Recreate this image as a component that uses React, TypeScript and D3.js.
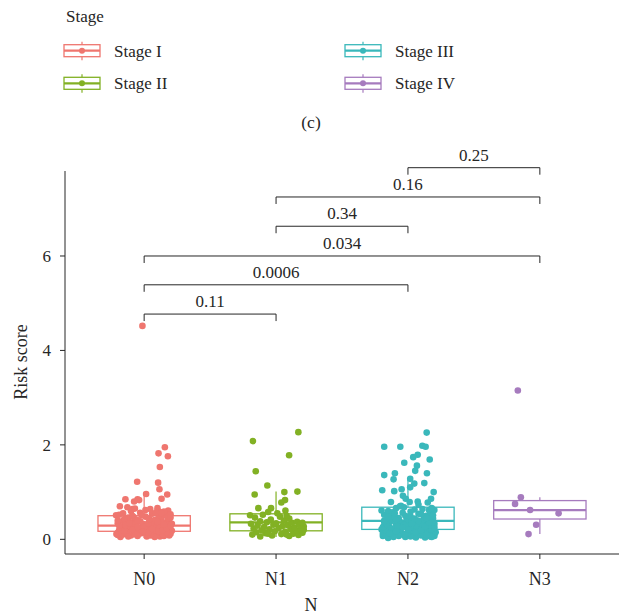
import React from "react";
import * as d3 from "d3";

const categories = ["N0", "N1", "N2", "N3"];
const stageLabels = ["Stage I", "Stage II", "Stage III", "Stage IV"];
const colors = ["#EF766F", "#82B124", "#3AB8BB", "#A67BBE"];
const yTicks = [0, 2, 4, 6];

// box statistics
const q1 = [0.17, 0.18, 0.21, 0.43];
const med = [0.29, 0.36, 0.39, 0.62];
const q3 = [0.5, 0.54, 0.68, 0.82];
const wLo = [0.03, 0.05, 0.02, 0.11];
const wHi = [0.98, 1.01, 1.26, 0.89];

// [value, jitter (fraction of category step)]
const ptsN0: [number, number][] = [
  [4.52, -0.013], [1.95, 0.157], [1.82, 0.109], [1.76, 0.18], [1.53, 0.119], [1.22, -0.053], [1.2, 0.106],
  [1.06, 0.116], [0.96, 0.015], [0.95, 0.175], [0.86, 0.132], [0.85, -0.142], [0.85, -0.05], [0.7, -0.184],
  [0.68, -0.127], [0.8, -0.076], [0.83, -0.038], [0.64, -0.089], [0.64, 0.046], [0.66, 0.101], [0.61, 0.182], [0.55, 0.14], [0.51, -0.213],
  [0.05, -0.18], [0.07, -0.05], [0.06, 0.12], [0.08, 0.19], [0.09, -0.12], [0.1, 0.03], [0.11, -0.21], [0.12, 0.08], [0.13, -0.02], [0.14, 0.16],
  [0.15, -0.15], [0.16, 0.05], [0.17, -0.08], [0.18, 0.21], [0.19, -0.19], [0.2, 0.0], [0.21, 0.11], [0.22, -0.11], [0.23, 0.18], [0.24, -0.04],
  [0.25, 0.07], [0.26, -0.17], [0.27, 0.14], [0.28, -0.07], [0.29, 0.02], [0.3, 0.2], [0.31, -0.13], [0.32, 0.09], [0.33, -0.01], [0.34, -0.2],
  [0.35, 0.15], [0.36, -0.09], [0.37, 0.04], [0.38, 0.19], [0.39, -0.16], [0.4, 0.1], [0.42, -0.06], [0.44, 0.13], [0.46, -0.12], [0.48, 0.01],
  [0.5, 0.17], [0.52, -0.19], [0.54, 0.06], [0.56, -0.03], [0.58, 0.12], [0.6, -0.1],
  [0.06, 0.02], [0.07, 0.15], [0.08, -0.1], [0.09, 0.09], [0.1, -0.16], [0.11, 0.18], [0.12, -0.04], [0.13, 0.13], [0.14, -0.2], [0.15, 0.1],
  [0.16, -0.13], [0.17, 0.2], [0.18, -0.06], [0.19, 0.07], [0.2, -0.18], [0.21, 0.16], [0.22, -0.02], [0.23, 0.04], [0.24, -0.14], [0.25, 0.19],
  [0.26, 0.0], [0.27, -0.1], [0.28, 0.12], [0.29, -0.19], [0.3, 0.06], [0.31, 0.17], [0.32, -0.07], [0.33, 0.21], [0.34, 0.03], [0.35, -0.12],
  [0.36, 0.14], [0.38, -0.03], [0.4, -0.2], [0.41, 0.08], [0.43, -0.15], [0.45, 0.18], [0.47, -0.08], [0.49, 0.11], [0.51, -0.02], [0.53, 0.2],
  [0.55, -0.16], [0.57, 0.09], [0.59, 0.15],
  [0.05, 0.08], [0.06, -0.12], [0.08, 0.05], [0.09, -0.2], [0.1, 0.14], [0.11, -0.07], [0.12, 0.2], [0.13, -0.17], [0.14, 0.03], [0.15, 0.17],
  [0.16, -0.01], [0.17, 0.11], [0.18, -0.15], [0.19, 0.14], [0.2, -0.09], [0.22, 0.06], [0.24, 0.17], [0.26, -0.05], [0.28, 0.2], [0.3, -0.14],
  [0.32, 0.15], [0.34, -0.11], [0.37, 0.1], [0.4, -0.05], [0.43, 0.04], [0.46, 0.2], [0.5, -0.09], [0.55, 0.13], [0.62, 0.01], [0.65, -0.07],
];

const ptsN1: [number, number][] = [
  [2.27, 0.169], [2.08, -0.175], [1.78, 0.099], [1.44, -0.154], [1.14, -0.066], [1.01, 0.162], [0.95, -0.162],
  [1.0, 0.063], [0.83, 0.068], [0.78, 0.04], [0.66, -0.134], [0.66, -0.038], [0.61, 0.071], [0.51, -0.197],
  [0.06, -0.12], [0.07, 0.1], [0.08, -0.03], [0.09, 0.17], [0.1, -0.18], [0.11, 0.04], [0.12, 0.13], [0.13, -0.08], [0.14, 0.2], [0.15, -0.15],
  [0.16, 0.07], [0.17, -0.01], [0.18, 0.16], [0.19, -0.11], [0.2, 0.19], [0.21, -0.05], [0.22, 0.11], [0.23, -0.17], [0.24, 0.02], [0.25, 0.14],
  [0.26, -0.09], [0.27, 0.21], [0.28, 0.05], [0.29, -0.14], [0.3, 0.09], [0.31, -0.02], [0.32, 0.18], [0.33, -0.19], [0.34, 0.0], [0.35, 0.12],
  [0.36, -0.07], [0.37, 0.16], [0.38, -0.12], [0.4, 0.06], [0.42, -0.04], [0.44, 0.1], [0.46, -0.16], [0.48, 0.03], [0.5, 0.08], [0.52, -0.1],
  [0.55, 0.01], [0.58, -0.06], [0.2, 0.21], [0.17, 0.2], [0.12, -0.06], [0.1, 0.08], [0.3, 0.18], [0.35, 0.2],
];

const ptsN2: [number, number][] = [
  [2.26, 0.142], [1.96, -0.18], [1.96, -0.058], [1.98, 0.109], [1.96, 0.134], [1.79, 0.074], [1.74, 0.04], [1.69, 0.165],
  [1.62, -0.028], [1.56, 0.068], [1.45, 0.055], [1.4, -0.099], [1.4, 0.144], [1.36, -0.18], [1.27, -0.109], [1.28, 0.017],
  [1.19, 0.124], [1.18, 0.048], [1.1, 0.017], [1.04, -0.195], [1.02, -0.104], [1.06, -0.048], [1.0, 0.195], [0.86, 0.175],
  [0.92, -0.038], [0.86, -0.017], [0.79, -0.129], [0.78, 0.15], [0.79, 0.013], [0.8, 0.074], [0.71, -0.053], [0.62, 0.2],
  [0.03, -0.15], [0.04, 0.06], [0.05, -0.02], [0.06, 0.17], [0.07, -0.19], [0.08, 0.1], [0.09, -0.08], [0.1, 0.2], [0.11, -0.12], [0.12, 0.03],
  [0.13, 0.14], [0.14, -0.05], [0.15, -0.17], [0.16, 0.08], [0.17, 0.19], [0.18, -0.1], [0.19, 0.01], [0.2, 0.13], [0.21, -0.2], [0.22, 0.05],
  [0.23, -0.07], [0.24, 0.16], [0.25, -0.14], [0.26, 0.09], [0.27, -0.03], [0.28, 0.2], [0.29, -0.18], [0.3, 0.04], [0.31, 0.12], [0.32, -0.09],
  [0.33, 0.18], [0.34, -0.16], [0.35, 0.0], [0.36, 0.11], [0.37, -0.06], [0.38, 0.15], [0.39, -0.13], [0.4, 0.07], [0.42, -0.01], [0.44, 0.19],
  [0.46, -0.11], [0.48, 0.02], [0.5, 0.14], [0.52, -0.18], [0.54, 0.08], [0.56, -0.04], [0.58, 0.17], [0.6, -0.15], [0.63, 0.05], [0.66, -0.09],
  [0.04, 0.13], [0.05, -0.11], [0.06, 0.02], [0.07, 0.2], [0.08, -0.16], [0.09, 0.07], [0.1, -0.04], [0.11, 0.16], [0.12, -0.19], [0.13, 0.0],
  [0.14, 0.11], [0.15, 0.21], [0.16, -0.13], [0.17, 0.04], [0.18, 0.15], [0.19, -0.17], [0.2, -0.06], [0.21, 0.09], [0.22, 0.18], [0.23, -0.12],
  [0.24, 0.01], [0.25, 0.12], [0.26, -0.19], [0.27, 0.07], [0.28, -0.08], [0.29, 0.15], [0.3, -0.03], [0.32, 0.1], [0.34, 0.2], [0.36, -0.14],
  [0.38, 0.03], [0.4, -0.18], [0.43, 0.12], [0.45, -0.07], [0.47, 0.17], [0.5, -0.02], [0.53, 0.1], [0.57, -0.12], [0.62, 0.16], [0.68, -0.03],
  [0.05, 0.18], [0.07, -0.07], [0.09, 0.14], [0.11, -0.02], [0.13, -0.14], [0.15, 0.06], [0.17, -0.09], [0.19, 0.1], [0.21, 0.0], [0.23, 0.2],
  [0.25, -0.04], [0.27, 0.13], [0.29, 0.06], [0.31, -0.16], [0.33, 0.03], [0.35, 0.16], [0.37, -0.18], [0.39, 0.08], [0.41, -0.09], [0.44, 0.05],
  [0.47, -0.15], [0.51, 0.19], [0.55, -0.1], [0.59, 0.02], [0.64, 0.11], [0.7, -0.06], [0.73, 0.08], [0.66, 0.18], [0.61, -0.2], [0.45, 0.14],
];

const ptsN3: [number, number][] = [
  [3.15, -0.167], [0.89, -0.144], [0.75, -0.188], [0.62, -0.074], [0.55, 0.142], [0.31, -0.028], [0.11, -0.086],
];

const groupPoints = [ptsN0, ptsN1, ptsN2, ptsN3];

// comparisons: group a, group b, y level, p label
const compA = [2, 1, 1, 0, 0, 0];
const compB = [3, 3, 2, 3, 2, 1];
const compY = [7.87, 7.25, 6.63, 6.0, 5.39, 4.77];
const compP = ["0.25", "0.16", "0.34", "0.034", "0.0006", "0.11"];

const FONT = '"Liberation Serif", "Times New Roman", serif';
const INK = "#262626";

export default function App() {
  const left = 65, right = 619, top = 171, bottom = 554;
  const x = d3.scalePoint<string>().domain(categories).range([left, right]).padding(0.6);
  const step = x.step();
  const y = d3.scaleLinear().domain([-0.311, 7.8]).range([bottom, top]);
  const boxHalf = step * 0.35;

  const legendPos = [
    { kx: 64, ty: 50.7 },
    { kx: 64, ty: 83.3 },
    { kx: 345, ty: 50.7 },
    { kx: 345, ty: 83.3 },
  ];

  const T = (props: any) => <text fill={INK} style={{ fontFamily: FONT }} {...props} />;

  return (
    <svg width={622} height={616} style={{ position: "absolute", left: 0, top: 0 }}>
      <rect width={622} height={616} fill="#fff" />
      {/* legend */}
      <T x={66} y={22} fontSize={17}>Stage</T>
      {stageLabels.map((s, i) => {
        const p = legendPos[i];
        const cx = p.kx + 18;
        return (
          <g key={s}>
            <line x1={cx} x2={cx} y1={p.ty - 9} y2={p.ty + 9.5} stroke={colors[i]} strokeWidth={1.2} />
            <rect x={p.kx} y={p.ty - 6} width={36} height={12} fill="#fff" stroke={colors[i]} strokeWidth={1.3} />
            <line x1={p.kx} x2={p.kx + 36} y1={p.ty} y2={p.ty} stroke={colors[i]} strokeWidth={2.2} />
            <circle cx={cx} cy={p.ty} r={3} fill={colors[i]} />
            <T x={p.kx + 50} y={p.ty + 6} fontSize={17}>{s}</T>
          </g>
        );
      })}
      <T x={311} y={128} textAnchor="middle" fontSize={17.5}>(c)</T>

      {/* boxes */}
      {categories.map((c, i) => {
        const cx = x(c)!;
        return (
          <g key={c}>
            <line x1={cx} x2={cx} y1={y(q3[i])} y2={y(wHi[i])} stroke={colors[i]} strokeWidth={1.2} />
            <line x1={cx} x2={cx} y1={y(q1[i])} y2={y(wLo[i])} stroke={colors[i]} strokeWidth={1.2} />
            <rect x={cx - boxHalf} y={y(q3[i])} width={boxHalf * 2} height={y(q1[i]) - y(q3[i])} fill="#fff" stroke={colors[i]} strokeWidth={1.3} />
            <line x1={cx - boxHalf} x2={cx + boxHalf} y1={y(med[i])} y2={y(med[i])} stroke={colors[i]} strokeWidth={2.2} />
          </g>
        );
      })}
      {/* jitter points */}
      {groupPoints.map((pts, i) => (
        <g key={i} fill={colors[i]}>
          {pts.map((p, j) => (
            <circle key={j} cx={x(categories[i])! + p[1] * step} cy={y(p[0])} r={3.3} />
          ))}
        </g>
      ))}

      {/* comparison brackets */}
      {compP.map((lab, k) => {
        const xa = x(categories[compA[k]])!;
        const xb = x(categories[compB[k]])!;
        const yy = y(compY[k]);
        const tip = 7;
        return (
          <g key={k}>
            <path d={`M${xa},${yy + tip}V${yy}H${xb}V${yy + tip}`} fill="none" stroke={INK} strokeWidth={1} />
            <T x={(xa + xb) / 2} y={yy - 7} textAnchor="middle" fontSize={17}>{lab}</T>
          </g>
        );
      })}

      {/* axes */}
      <line x1={left} x2={left} y1={top} y2={bottom} stroke={INK} strokeWidth={1} />
      <line x1={left} x2={right} y1={bottom} y2={bottom} stroke={INK} strokeWidth={1} />
      {yTicks.map((t) => (
        <g key={t}>
          <line x1={left - 5} x2={left} y1={y(t)} y2={y(t)} stroke={INK} strokeWidth={1} />
          <T x={left - 14} y={y(t)} dy="0.35em" textAnchor="end" fontSize={17}>{t}</T>
        </g>
      ))}
      {categories.map((c) => (
        <g key={c}>
          <line x1={x(c)!} x2={x(c)!} y1={bottom} y2={bottom + 5} stroke={INK} strokeWidth={1} />
          <T x={x(c)!} y={585} textAnchor="middle" fontSize={18}>{c}</T>
        </g>
      ))}
      <T x={311} y={611} textAnchor="middle" fontSize={18}>N</T>
      <T transform={`translate(27,362) rotate(-90)`} textAnchor="middle" fontSize={18}>Risk score</T>
    </svg>
  );
}
